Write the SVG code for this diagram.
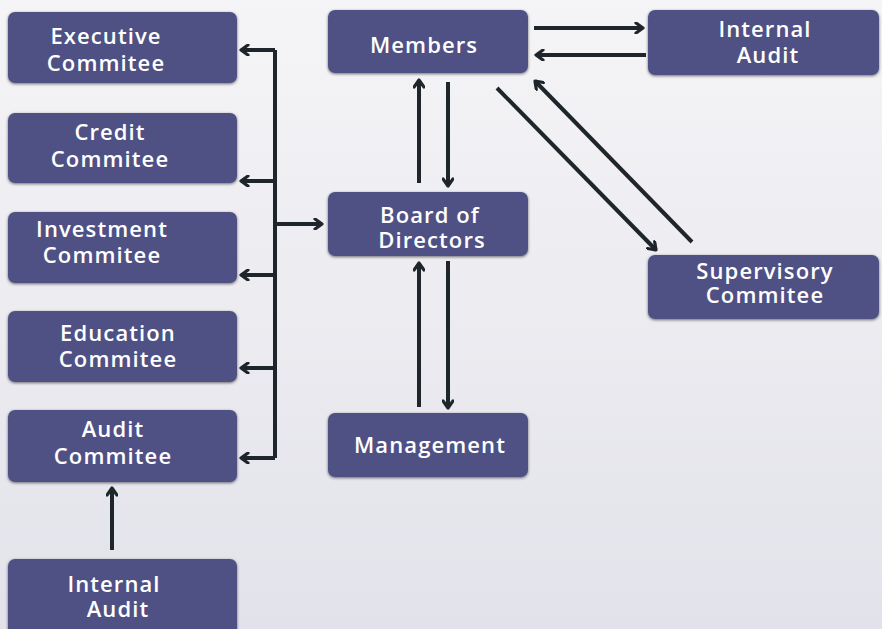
<svg xmlns="http://www.w3.org/2000/svg" width="882" height="629" viewBox="0 0 882 629">
  <defs>
    <linearGradient id="bg" x1="0" y1="0" x2="0" y2="1">
      <stop offset="0" stop-color="#f5f5f7"/>
      <stop offset="1" stop-color="#e2e2ea"/>
    </linearGradient>
    <filter id="shadow" x="-10%" y="-20%" width="120%" height="140%">
      <feGaussianBlur in="SourceAlpha" stdDeviation="1.6"/>
      <feOffset dx="0" dy="1" result="b"/>
      <feFlood flood-color="#000" flood-opacity="0.55"/>
      <feComposite in2="b" operator="in"/>
      <feMerge><feMergeNode/><feMergeNode in="SourceGraphic"/></feMerge>
    </filter>
    <marker id="arrow" viewBox="0 0 12 12" refX="10" refY="6" markerWidth="12" markerHeight="12" markerUnits="userSpaceOnUse" orient="auto">
      <path d="M3,1 L10,6 L3,11" fill="none" stroke="#1e252b" stroke-width="3.2" stroke-linecap="round" stroke-linejoin="round"/>
    </marker>
  </defs>
  <style>
    .box { fill: #4f5185; filter: url(#shadow); }
    .lbl { fill: #ffffff; font-family: "Open Sans", "Liberation Sans", sans-serif; font-weight: 600; font-size: 22px; letter-spacing: 1.1px; text-anchor: middle; }
    .conn { fill: none; stroke: #1e252b; stroke-width: 4; stroke-linejoin: round; }
    .arr { marker-end: url(#arrow); }
  </style>

  <rect width="882" height="629" fill="url(#bg)"/>

  <g id="executive-commitee">
    <rect class="box" x="8" y="12" width="229" height="71" rx="7"/>
    <text class="lbl" x="106" y="44">Executive</text>
    <text class="lbl" x="106" y="71">Commitee</text>
  </g>
  <g id="credit-commitee">
    <rect class="box" x="8" y="113" width="229" height="70" rx="7"/>
    <text class="lbl" x="110" y="140">Credit</text>
    <text class="lbl" x="110" y="167">Commitee</text>
  </g>
  <g id="investment-commitee">
    <rect class="box" x="8" y="212" width="229" height="71" rx="7"/>
    <text class="lbl" x="102" y="237">Investment</text>
    <text class="lbl" x="102" y="263">Commitee</text>
  </g>
  <g id="education-commitee">
    <rect class="box" x="8" y="311" width="229" height="71" rx="7"/>
    <text class="lbl" x="118" y="341">Education</text>
    <text class="lbl" x="118" y="367">Commitee</text>
  </g>
  <g id="audit-commitee">
    <rect class="box" x="8" y="410" width="229" height="72" rx="7"/>
    <text class="lbl" x="113" y="437">Audit</text>
    <text class="lbl" x="113" y="464">Commitee</text>
  </g>
  <g id="internal-audit-left">
    <rect class="box" x="8" y="559" width="229" height="78" rx="7"/>
    <text class="lbl" x="114" y="592">Internal</text>
    <text class="lbl" x="118" y="617">Audit</text>
  </g>
  <g id="members">
    <rect class="box" x="328" y="10" width="200" height="63" rx="7"/>
    <text class="lbl" x="424" y="53">Members</text>
  </g>
  <g id="internal-audit-right">
    <rect class="box" x="648" y="10" width="231" height="65" rx="7"/>
    <text class="lbl" x="765" y="37">Internal</text>
    <text class="lbl" x="768" y="63">Audit</text>
  </g>
  <g id="board-of-directors">
    <rect class="box" x="328" y="192" width="200" height="64" rx="7"/>
    <text class="lbl" x="430" y="223">Board of</text>
    <text class="lbl" x="432" y="248">Directors</text>
  </g>
  <g id="supervisory-commitee">
    <rect class="box" x="648" y="255" width="231" height="64" rx="7"/>
    <text class="lbl" x="765" y="279">Supervisory</text>
    <text class="lbl" x="765" y="303">Commitee</text>
  </g>
  <g id="management">
    <rect class="box" x="328" y="413" width="200" height="64" rx="7"/>
    <text class="lbl" x="430" y="453">Management</text>
  </g>

  <g id="connectors">
    <!-- committee bus -->
    <path class="conn" d="M275,50 V458"/>
    <path class="conn arr" d="M275,50 H241"/>
    <path class="conn arr" d="M275,181 H241"/>
    <path class="conn arr" d="M275,275 H241"/>
    <path class="conn arr" d="M275,368 H241"/>
    <path class="conn arr" d="M275,458 H241"/>
    <path class="conn arr" d="M275,224 H322"/>
    <!-- members and board -->
    <path class="conn arr" d="M419,183 V80"/>
    <path class="conn arr" d="M448,82 V186"/>
    <!-- board and management -->
    <path class="conn arr" d="M419,407 V263"/>
    <path class="conn arr" d="M448,261 V408"/>
    <!-- members and internal audit -->
    <path class="conn arr" d="M534,28 H643"/>
    <path class="conn arr" d="M646,55 H536"/>
    <!-- members and supervisory committee -->
    <path class="conn arr" d="M497,88 L656,250"/>
    <path class="conn arr" d="M692,242 L535,81"/>
    <!-- internal audit to audit committee -->
    <path class="conn arr" d="M112,550 V488"/>
  </g>
</svg>
